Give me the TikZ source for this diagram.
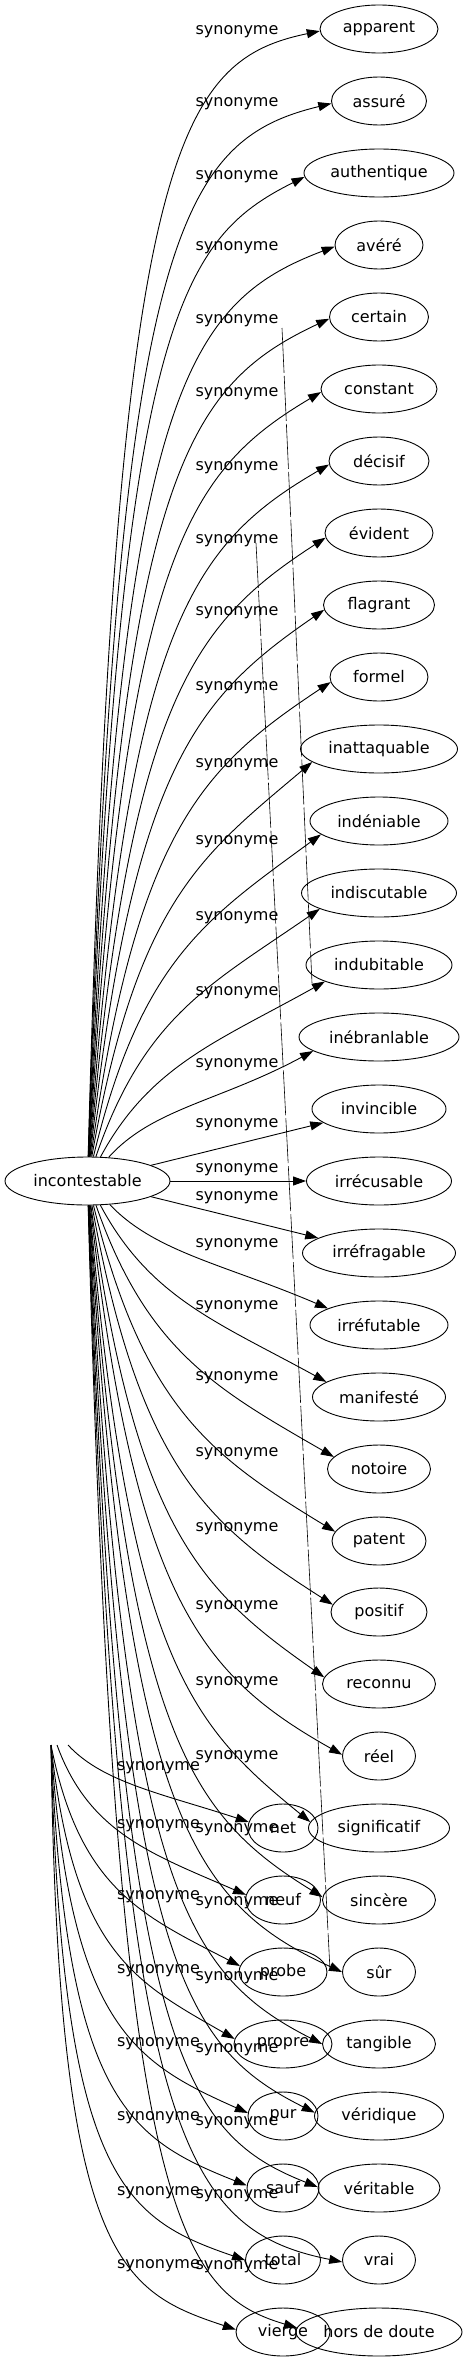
\documentclass[tikz,border=0pt]{standalone}
\usepackage{fontspec}
\setmainfont{DejaVu Sans}
\usetikzlibrary{arrows.meta, shapes.geometric}

% edge from incontestable: target, centre y, tip x, tip y
\newcommand{\synmain}[4]{%
  \pgfmathsetmacro{\synD}{#4-1181}%
  \pgfmathsetmacro{\synSg}{(\synD)/abs(\synD)}%
  \pgfmathsetmacro{\synR}{min(abs(\synD)/1150,1)}%
  \pgfmathsetmacro{\synA}{sqrt(\synR)}%
  \pgfmathsetmacro{\synDel}{(8+12*(1-\synR))*(\synSg)}%
  \pgfmathsetmacro{\synWy}{#4-(\synDel)}%
  \pgfmathsetmacro{\synSy}{1181+24*(\synSg)}%
  \pgfmathsetmacro{\synCx}{(1-\synA)*(100+(#3-100)/3)+\synA*115}%
  \pgfmathsetmacro{\synCy}{(1-\synA)*(\synSy+(#4-\synSy)/3)+\synA*(0.9*\synWy+118.1)}%
  \pgfmathsetmacro{\synEx}{(1-\synA)*(100+2*(#3-100)/3)+\synA*175}%
  \pgfmathsetmacro{\synEy}{(1-\synA)*(\synSy+2*(#4-\synSy)/3)+\synA*(\synWy-(\synDel)*105/max(#3-280,30))}%
  \pgfmathsetmacro{\synAng}{mod(atan2(#2-#4,#3-379)+360,360)}%
  \draw[syn] (inc) .. controls (\synCx,\synCy) and (\synEx,\synEy) .. (#1.\synAng);%
}

% edge from the hidden source: target, centre y, tip x, tip y, start shift
\newcommand{\synghost}[5]{%
  \pgfmathsetmacro{\synR}{min((#4-1745)/587,1)}%
  \pgfmathsetmacro{\synA}{sqrt(\synR)}%
  \pgfmathsetmacro{\synSx}{51+#5}%
  \pgfmathsetmacro{\synWy}{#4-12}%
  \pgfmathsetmacro{\synCx}{(1-\synA)*(\synSx+(#3-\synSx)/3)+\synA*58}%
  \pgfmathsetmacro{\synCy}{(1-\synA)*(1745+(#4-1745)/3)+\synA*(0.9*\synWy+174.5)}%
  \pgfmathsetmacro{\synEx}{(1-\synA)*(\synSx+2*(#3-\synSx)/3)+\synA*120}%
  \pgfmathsetmacro{\synEy}{(1-\synA)*(1745+2*(#4-1745)/3)+\synA*(\synWy-12*80/max(#3-200,25))}%
  \pgfmathsetmacro{\synAng}{mod(atan2(#2-#4,#3-283)+360,360)}%
  \draw[syn] ([xshift=#5pt]ghost) .. controls (\synCx,\synCy) and (\synEx,\synEy) .. (#1.\synAng);%
}

\begin{document}
\begin{tikzpicture}[x=1pt, y=-1pt,
      term/.style={draw, ellipse, line width=0.9pt, inner sep=0pt, minimum height=48pt,
                   font=\fontsize{16}{19}\selectfont},
      rel/.style={inner sep=0pt, font=\fontsize{16}{19}\selectfont},
      syn/.style={line width=0.9pt, -{Triangle[length=13pt, width=9pt]}},
      streak/.style={line width=0.6pt, dash pattern=on 45pt off 3pt}]

      \useasboundingbox (0,0) rectangle (469,2363);

      % Source word
      \node[term, minimum width=165pt] (inc) at (87.5,1181) {incontestable};

      % Synonyms
      \node[term, minimum width=118pt] (apparent) at (379,29) {apparent};
      \node[term, minimum width=95pt] (assure) at (379,101) {assuré};
      \node[term, minimum width=150pt] (authentique) at (379,173) {authentique};
      \node[term, minimum width=88pt] (avere) at (379,245) {avéré};
      \node[term, minimum width=99pt] (certain) at (379,317) {certain};
      \node[term, minimum width=116pt] (constant) at (379,389) {constant};
      \node[term, minimum width=100pt] (decisif) at (379,461) {décisif};
      \node[term, minimum width=108pt] (evident) at (379,533) {évident};
      \node[term, minimum width=111pt] (flagrant) at (379,605) {flagrant};
      \node[term, minimum width=98pt] (formel) at (379,677) {formel};
      \node[term, minimum width=157pt] (inattaquable) at (379,749) {inattaquable};
      \node[term, minimum width=138pt] (indeniable) at (379,821) {indéniable};
      \node[term, minimum width=155pt] (indiscutable) at (379,893) {indiscutable};
      \node[term, minimum width=146pt] (indubitable) at (379,965) {indubitable};
      \node[term, minimum width=160pt] (inebranlable) at (379,1037) {inébranlable};
      \node[term, minimum width=134pt] (invincible) at (379,1109) {invincible};
      \node[term, minimum width=145pt] (irrecusable) at (379,1181) {irrécusable};
      \node[term, minimum width=153pt] (irrefragable) at (379,1253) {irréfragable};
      \node[term, minimum width=138pt] (irrefutable) at (379,1325) {irréfutable};
      \node[term, minimum width=133pt] (manifeste) at (379,1397) {manifesté};
      \node[term, minimum width=103pt] (notoire) at (379,1469) {notoire};
      \node[term, minimum width=94pt] (patent) at (379,1541) {patent};
      \node[term, minimum width=96pt] (positif) at (379,1612) {positif};
      \node[term, minimum width=113pt] (reconnu) at (379,1684) {reconnu};
      \node[term, minimum width=73pt] (reel) at (379,1756) {réel};
      \node[term, minimum width=141pt] (significatif) at (379,1828) {significatif};
      \node[term, minimum width=113pt] (sincere) at (379,1900) {sincère};
      \node[term, minimum width=73pt] (sur) at (379,1972) {sûr};
      \node[term, minimum width=113pt] (tangible) at (379,2044) {tangible};
      \node[term, minimum width=129pt] (veridique) at (379,2116) {véridique};
      \node[term, minimum width=122pt] (veritable) at (379,2188) {véritable};
      \node[term, minimum width=73pt] (vrai) at (379,2260) {vrai};
      \node[term, minimum width=166pt] (horsdedoute) at (379,2332) {hors de doute};

      % Second fan, its source is not drawn
      \coordinate (ghost) at (51,1745);
      \node[term, minimum width=70pt] (net) at (283,1828) {net};
      \node[term, minimum width=75pt] (neuf) at (283,1900) {neuf};
      \node[term, minimum width=88pt] (probe) at (283,1972) {probe};
      \node[term, minimum width=98pt] (propre) at (283,2044) {propre};
      \node[term, minimum width=70pt] (pur) at (283,2116) {pur};
      \node[term, minimum width=72pt] (sauf) at (283,2188) {sauf};
      \node[term, minimum width=75pt] (total) at (283,2260) {total};
      \node[term, minimum width=94pt] (vierge) at (283,2332) {vierge};

      % Edge labels
      \foreach \ly [count=\k] in {32,104,177,248,321,394,468,541,613,688,765,842,918,993,1065,
                                  1125,1170,1198,1245,1307,1378,1454,1529,1607,1683,1757,1830,
                                  1903,1978,2050,2123,2196,2267}
         \node[rel] (syn\k) at (237,\ly) {synonyme};
      \foreach \ly [count=\k] in {1768,1826,1897,1971,2044,2118,2193,2266}
         \node[rel] (gsyn\k) at (158.5,\ly) {synonyme};

      % Edges from incontestable
      \synmain{apparent}{29}{320}{32}
      \synmain{assure}{101}{332}{104}
      \synmain{authentique}{173}{304}{178}
      \synmain{avere}{245}{335}{247}
      \synmain{certain}{317}{330}{319}
      \synmain{constant}{389}{321}{393}
      \synmain{decisif}{461}{329}{465}
      \synmain{evident}{533}{325}{538}
      \synmain{flagrant}{605}{324}{610}
      \synmain{formel}{677}{330}{683}
      \synmain{inattaquable}{749}{312}{763}
      \synmain{indeniable}{821}{318}{836}
      \synmain{indiscutable}{893}{317}{910}
      \synmain{indubitable}{965}{325}{982}
      \synmain{inebranlable}{1037}{313}{1052}
      \draw[syn] (inc) -- (invincible);
      \draw[syn] (inc) -- (irrecusable);
      \draw[syn] (inc) -- (irrefragable);
      \synmain{irrefutable}{1325}{325}{1308}
      \synmain{manifeste}{1397}{325}{1382}
      \synmain{notoire}{1469}{332}{1457}
      \synmain{patent}{1541}{333}{1532}
      \synmain{positif}{1612}{332}{1605}
      \synmain{reconnu}{1684}{323}{1678}
      \synmain{reel}{1756}{343}{1755}
      \synmain{significatif}{1828}{309}{1822}
      \synmain{sincere}{1900}{323}{1898}
      \synmain{sur}{1972}{342}{1972}
      \synmain{tangible}{2044}{323}{2044}
      \synmain{veridique}{2116}{315}{2113}
      \synmain{veritable}{2188}{318}{2187}
      \synmain{vrai}{2260}{343}{2262}
      \synmain{horsdedoute}{2332}{298}{2328}

      % Edges from the hidden source
      \synghost{net}{1828}{247}{1822}{17}
      \synghost{neuf}{1900}{247}{1895}{6}
      \synghost{probe}{1972}{239}{1966}{0}
      \synghost{propre}{2044}{234}{2039}{0}
      \synghost{pur}{2116}{247}{2113}{0}
      \synghost{sauf}{2188}{247}{2186}{0}
      \synghost{total}{2260}{246}{2260}{0}
      \synghost{vierge}{2332}{236}{2330}{0}

      % Stray long strokes
      \coordinate (streakAtop) at (282,328);
      \coordinate (streakAend) at (312,983);
      \coordinate (streakBtop) at (256,543);
      \coordinate (streakBend) at (330,1970);
      \draw[streak] (streakAtop) -- (streakAend);
      \draw[streak] (streakBtop) -- (streakBend);
\end{tikzpicture}
\end{document}
